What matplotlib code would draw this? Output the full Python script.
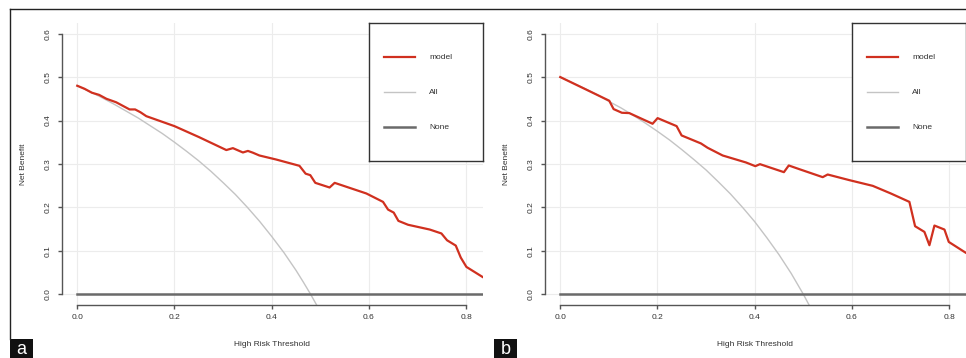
import matplotlib
matplotlib.use('Agg')
import matplotlib.pyplot as plt
from matplotlib.patches import Rectangle
from matplotlib.lines import Line2D

plt.rcParams['font.family'] = ['Liberation Sans', 'DejaVu Sans']

# panel a - model curve (threshold, net benefit)
thrA = [0.0, 0.015, 0.03, 0.045, 0.06, 0.08, 0.1076, 0.119, 0.13, 0.142, 0.2, 0.25,
        0.3066, 0.3201, 0.3407, 0.351, 0.361, 0.3746, 0.4088, 0.457, 0.4697, 0.4793,
        0.4896, 0.519, 0.5294, 0.5947, 0.6289, 0.6392, 0.6509, 0.6605, 0.6804, 0.725,
        0.749, 0.7606, 0.7785, 0.7888, 0.8004, 0.8334]
nbA = [0.480, 0.473, 0.464, 0.459, 0.450, 0.442, 0.4255, 0.4255, 0.419, 0.410, 0.387, 0.362,
       0.332, 0.3364, 0.3264, 0.330, 0.326, 0.3195, 0.3103, 0.2957, 0.2776, 0.2742,
       0.2565, 0.2458, 0.2565, 0.232, 0.2127, 0.195, 0.188, 0.169, 0.160, 0.149,
       0.140, 0.1243, 0.1121, 0.0845, 0.063, 0.040]

# panel b - model curve
thrB = [0.0, 0.05, 0.1008, 0.1097, 0.1268, 0.1419, 0.1899, 0.2002, 0.2393, 0.2496,
        0.2894, 0.3031, 0.334, 0.382, 0.4012, 0.4108, 0.46, 0.47, 0.4917, 0.5398,
        0.55, 0.5947, 0.6427, 0.68, 0.7181, 0.7298, 0.749, 0.7593, 0.7696, 0.7902,
        0.7991, 0.8334]
nbB = [0.500, 0.473, 0.4455, 0.4263, 0.4178, 0.4171, 0.3925, 0.4055, 0.3871, 0.3656,
       0.3472, 0.3372, 0.3195, 0.3034, 0.2949, 0.2995, 0.2811, 0.2965, 0.288, 0.2696,
       0.2757, 0.2627, 0.2496, 0.232, 0.2127, 0.1567, 0.1436, 0.1129, 0.1582, 0.149,
       0.1205, 0.096]

# "treat all" curves
allX_A = [0.0, 0.025, 0.05, 0.075, 0.1, 0.125, 0.15, 0.175, 0.2, 0.225, 0.25, 0.275,
          0.3, 0.325, 0.35, 0.375, 0.4, 0.425, 0.45, 0.465, 0.48, 0.495]
allY_A = [0.480, 0.467, 0.453, 0.438, 0.422, 0.406, 0.388, 0.370, 0.350, 0.329, 0.307, 0.283,
          0.257, 0.230, 0.200, 0.168, 0.133, 0.096, 0.055, 0.028, 0.0, -0.030]
allX_B = [0.0, 0.025, 0.05, 0.075, 0.1, 0.125, 0.15, 0.175, 0.2, 0.225, 0.25, 0.275,
          0.3, 0.325, 0.35, 0.375, 0.4, 0.425, 0.45, 0.475, 0.5, 0.52]
allY_B = [0.500, 0.487, 0.474, 0.460, 0.444, 0.429, 0.412, 0.394, 0.375, 0.355, 0.333, 0.310,
          0.286, 0.259, 0.231, 0.200, 0.167, 0.130, 0.091, 0.048, 0.0, -0.042]

noneX = [0.0, 0.9]
noneY = [0.0, 0.0]

xticks = [0.0, 0.2, 0.4, 0.6, 0.8]
yticks = [0.0, 0.1, 0.2, 0.3, 0.4, 0.5, 0.6]
legend_labels = ['model', 'All', 'None']

RED = '#d0301f'
ALLC = '#c4c4c4'
NONEC = '#6a6a6a'
AXC = '#555555'
TXT = '#333333'
FS = 6

W, H = 966, 358
fig = plt.figure(figsize=(W / 100, H / 100), dpi=100)


def panel(x0, tx, ty, ax_x, ax_y, letter, lx):
    left, right = x0 + 61.7, x0 + 482.5
    top, bot = 23.2, 304.7
    ax = fig.add_axes([left / W, 1 - bot / H, (right - left) / W, (bot - top) / H])
    ax.set_xlim(-0.032, 0.8335)
    ax.set_ylim(-0.024, 0.624)
    ax.grid(True, color='#ececec', lw=0.8)
    ax.set_axisbelow(True)
    ax.plot(ax_x, ax_y, color=ALLC, lw=1.0)
    ax.plot(noneX, noneY, color=NONEC, lw=1.8)
    ax.plot(tx, ty, color=RED, lw=1.6)
    for s in ['top', 'right']:
        ax.spines[s].set_visible(False)
    ax.spines['left'].set_bounds(0, 0.6)
    ax.spines['bottom'].set_bounds(0, 0.8)
    for s in ['left', 'bottom']:
        ax.spines[s].set_color(AXC)
        ax.spines[s].set_linewidth(1.0)
    ax.set_xticks(xticks)
    ax.set_yticks(yticks)
    ax.set_xticklabels(['%.1f' % v for v in xticks])
    ax.set_yticklabels(['%.1f' % v for v in yticks], rotation=90, va='center')
    ax.tick_params(length=3, width=1.0, color=AXC, labelsize=FS, labelcolor=TXT, pad=4)
    ax.set_xlabel('High Risk Threshold', fontsize=FS, color=TXT, labelpad=14)
    ax.set_ylabel('Net Benefit', fontsize=FS, color=TXT, labelpad=13)

    # legend box
    lg = ax.inset_axes([0.731, 0.5105, 0.269, 0.4895])
    lg.set_xlim(0, 1)
    lg.set_ylim(0, 1)
    lg.set_xticks([])
    lg.set_yticks([])
    for s in lg.spines.values():
        s.set_color('#333333')
        s.set_linewidth(1.0)
    cols = [RED, ALLC, NONEC]
    lws = [1.6, 1.0, 1.8]
    for i, lab in enumerate(legend_labels):
        yy = 0.754 - i * 0.254
        lg.plot([0.133, 0.407], [yy, yy], color=cols[i], lw=lws[i])
        lg.text(0.531, yy, lab, fontsize=FS, color=TXT, va='center')

    # panel letter
    fig.add_artist(Rectangle((lx / W, 0), 23 / W, 19 / H, transform=fig.transFigure,
                             color='#111111', lw=0))
    fig.text((lx + 11.5) / W, 8.5 / H, letter, color='white', fontsize=13,
             ha='center', va='center')
    return ax


panel(0, thrA, nbA, allX_A, allY_A, 'a', 10)
panel(483, thrB, nbB, allX_B, allY_B, 'b', 494)

# outer frame
fig.add_artist(Line2D([10 / W, 1], [1 - 9 / H, 1 - 9 / H], transform=fig.transFigure,
                      color='#222222', lw=1.0))
fig.add_artist(Line2D([10 / W, 10 / W], [19 / H, 1 - 9 / H], transform=fig.transFigure,
                      color='#222222', lw=1.0))

fig.savefig('out.png', dpi=100)
